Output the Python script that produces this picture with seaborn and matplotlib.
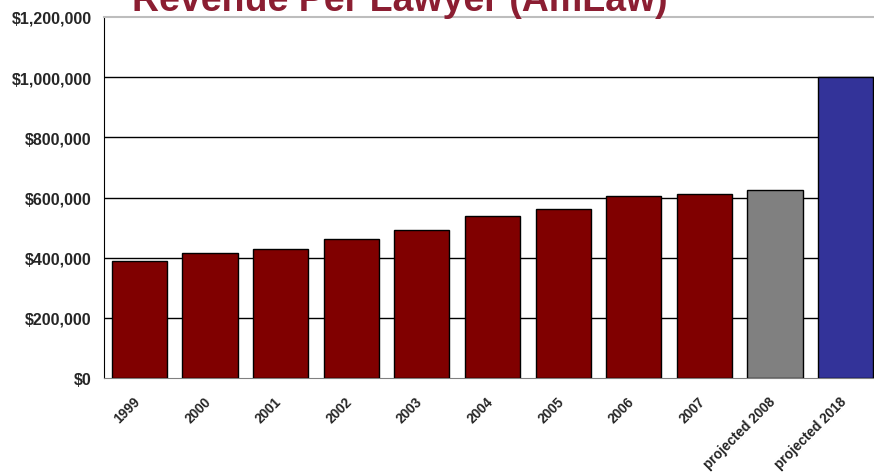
import matplotlib
matplotlib.use("Agg")
import matplotlib.pyplot as plt
import matplotlib.transforms as mtransforms
import seaborn as sns

# data
years = ["1999", "2000", "2001", "2002", "2003", "2004", "2005",
         "2006", "2007", "projected 2008", "projected 2018"]
revenue = [390000, 416000, 430000, 462000, 492000, 537000, 561000,
           606000, 612000, 626000, 1000000]
bar_colors = ["#800000"] * 9 + ["#808080", "#333399"]
y_ticks = [0, 200000, 400000, 600000, 800000, 1000000, 1200000]

sns.set_style("white")
plt.rcParams["font.family"] = ["Liberation Sans", "DejaVu Sans"]

fig = plt.figure(figsize=(8.74, 4.77), dpi=100)
# axes run off the right edge, like the original export
ax = fig.add_axes([104 / 874, 98 / 477, 777 / 874, 361 / 477])

sns.barplot(x=years, y=revenue, hue=years, palette=bar_colors, legend=False,
            saturation=1, width=0.78, edgecolor="black", linewidth=1,
            ax=ax, zorder=3)

ax.set_ylim(0, 1200000)
ax.set_xlim(-0.5, len(years) - 0.5)
ax.set_yticks(y_ticks)
ax.set_yticklabels([f"${v:,.0f}" for v in y_ticks], fontsize=11.5, fontweight="bold")
ax.set_xlabel("")
ax.set_ylabel("")

# horizontal grid, inner lines only
ax.yaxis.grid(True, color="black", linewidth=1, zorder=0)
ax.set_axisbelow(True)
gl = ax.get_ygridlines()
gl[0].set_visible(False)
gl[-1].set_visible(False)

# spines
ax.spines["left"].set_color("black")
ax.spines["bottom"].set_color("#808080")
ax.spines["top"].set_color("#BDBDBD")
ax.spines["top"].set_linewidth(1.5)
ax.spines["right"].set_visible(False)

# tick labels on category centres, tick marks on boundaries
ax.set_xticks(range(len(years)))
ax.set_xticklabels(years, rotation=45, ha="right", va="center", rotation_mode="anchor",
                   fontsize=9.8, fontweight="bold")
ax.tick_params(axis="x", which="major", length=0, pad=15)
shift = mtransforms.ScaledTranslation(-1.5 / 100, 0, fig.dpi_scale_trans)
for lab in ax.get_xticklabels():
    lab.set_transform(lab.get_transform() + shift)
ax.set_xticks([i - 0.5 for i in range(len(years) + 1)], minor=True)
ax.tick_params(axis="x", which="minor", length=5, width=1, color="black", direction="out")
ax.tick_params(axis="y", length=5, width=1, color="#808080", direction="out", pad=4)

fig.text(132 / 874, 466 / 477, "Revenue Per Lawyer (AmLaw)", fontsize=27,
         fontweight="bold", color="#8B1E32", va="baseline", ha="left")

fig.savefig("out.png", dpi=100)
